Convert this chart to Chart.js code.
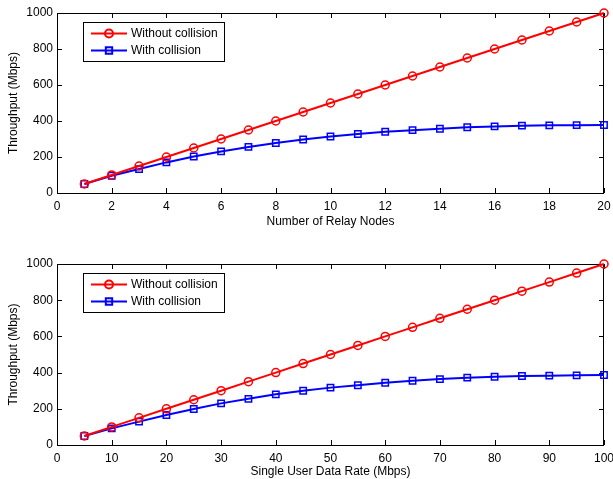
<!DOCTYPE html>
<html>
<head>
<meta charset="utf-8">
<script src="https://cdn.jsdelivr.net/npm/chart.js@4/dist/chart.umd.min.js"></script>
<style>
    html, body { margin: 0; padding: 0; background: #fff; }
    #wrap { position: relative; width: 613px; height: 479px; }
    .panel { position: absolute; left: 0; width: 613px; }
</style>
</head>
<body>
<div id="wrap">
    <div class="panel" style="top:0;height:240px"><canvas id="relayChart" width="613" height="240"></canvas></div>
    <div class="panel" style="top:240px;height:239px"><canvas id="rateChart" width="613" height="239"></canvas></div>
</div>
<script>
// top panel: throughput vs number of relay nodes
const relayNodes = [1, 2, 3, 4, 5, 6, 7, 8, 9, 10, 11, 12, 13, 14, 15, 16, 17, 18, 19, 20];
const relayWithout = [50, 100, 150, 200, 250, 300, 350, 400, 450, 500, 550, 600, 650, 700, 750, 800, 850, 900, 950, 1000];
const relayWith = [50, 96, 133, 170, 203, 231, 256, 278, 297, 314, 328, 340, 349, 357, 365, 370, 374, 376, 377, 378];
const relayTicks = [0, 2, 4, 6, 8, 10, 12, 14, 16, 18, 20];

// bottom panel: throughput vs single user data rate
const userRates = [5, 10, 15, 20, 25, 30, 35, 40, 45, 50, 55, 60, 65, 70, 75, 80, 85, 90, 95, 100];
const rateWithout = [50, 100, 150, 200, 250, 300, 350, 400, 450, 500, 550, 600, 650, 700, 750, 800, 850, 900, 950, 1000];
const rateWith = [50, 92, 129, 166, 199, 230, 255, 280, 300, 317, 330, 344, 355, 364, 372, 377, 381, 383, 385, 387];
const rateTicks = [0, 10, 20, 30, 40, 50, 60, 70, 80, 90, 100];

const throughputTicks = [0, 200, 400, 600, 800, 1000];
const seriesNames = ["Without collision", "With collision"];

Chart.defaults.font.family = "'Liberation Sans', Arial, Helvetica, sans-serif";
Chart.defaults.font.size = 12;
Chart.defaults.color = "#000";

// matlab style box with inward ticks on all four sides
const axesBox = {
    id: "axesBox",
    beforeDatasetsDraw(chart) {
        const { ctx, chartArea: a, scales } = chart;
        ctx.save();
        ctx.strokeStyle = "#000";
        ctx.lineWidth = 1;
        ctx.strokeRect(a.left + 0.5, a.top + 0.5, a.right - a.left - 1, a.bottom - a.top);
        ctx.beginPath();
        scales.x.ticks.forEach(t => {
            const px = Math.round(scales.x.getPixelForValue(t.value)) + 0.5;
            ctx.moveTo(px, a.bottom); ctx.lineTo(px, a.bottom - 5);
            ctx.moveTo(px, a.top); ctx.lineTo(px, a.top + 5);
        });
        scales.y.ticks.forEach(t => {
            const py = Math.round(scales.y.getPixelForValue(t.value)) + 0.5;
            ctx.moveTo(a.left, py); ctx.lineTo(a.left + 5, py);
            ctx.moveTo(a.right, py); ctx.lineTo(a.right - 5, py);
        });
        ctx.stroke();
        ctx.restore();
    }
};

// legend drawn inside the axes, top left
const insideLegend = {
    id: "insideLegend",
    afterDraw(chart) {
        const { ctx, chartArea: a } = chart;
        const x0 = a.left + 26, y0 = a.top + 9;
        ctx.save();
        ctx.fillStyle = "#fff";
        ctx.fillRect(x0, y0, 141, 39);
        ctx.strokeStyle = "#000";
        ctx.lineWidth = 1;
        ctx.strokeRect(x0 + 0.5, y0 + 0.5, 141, 39);
        chart.data.datasets.forEach((ds, i) => {
            const y = y0 + 11.5 + i * 17;
            ctx.strokeStyle = ds.borderColor;
            ctx.lineWidth = ds.borderWidth;
            ctx.beginPath();
            ctx.moveTo(x0 + 8, y);
            ctx.lineTo(x0 + 44, y);
            ctx.stroke();
            ctx.fillStyle = "rgba(0,0,0,0)";
            Chart.helpers.drawPoint(ctx, {
                pointStyle: ds.pointStyle,
                radius: ds.pointRadius,
                borderWidth: ds.pointBorderWidth,
                rotation: 0
            }, x0 + 26, y);
            ctx.fillStyle = "#000";
            ctx.font = "12px 'Liberation Sans', Arial, sans-serif";
            ctx.textBaseline = "middle";
            ctx.textAlign = "left";
            ctx.fillText(ds.label, x0 + 48, y);
        });
        ctx.restore();
    }
};

function makeDataset(label, xs, ys, color, style, radius) {
    return {
        label: label,
        data: xs.map((x, i) => ({ x: x, y: ys[i] })),
        borderColor: color,
        borderWidth: 2,
        pointStyle: style,
        pointRadius: radius,
        pointBorderWidth: 1.5,
        pointBorderColor: color,
        pointBackgroundColor: "rgba(0,0,0,0)",
        tension: 0,
        clip: false
    };
}

function makeChart(canvasId, xs, without, withC, xTicks, xMax, xTitle, opts) {
    return new Chart(document.getElementById(canvasId), {
        type: "line",
        data: {
            datasets: [
                makeDataset(seriesNames[0], xs, without, "#ff0000", "circle", 4),
                makeDataset(seriesNames[1], xs, withC, "#0000ff", "rect", 4.5)
            ]
        },
        options: {
            responsive: false,
            devicePixelRatio: 1,
            animation: false,
            events: [],
            layout: { padding: { top: opts.padTop, right: 9, left: 0, bottom: 0 } },
            plugins: { legend: { display: false }, tooltip: { enabled: false } },
            scales: {
                x: {
                    type: "linear",
                    min: 0,
                    max: xMax,
                    afterBuildTicks: s => { s.ticks = xTicks.map(v => ({ value: v })); },
                    afterFit: s => { s.height = opts.xHeight; s.paddingLeft = 0; s.paddingRight = 0; },
                    grid: { display: false, drawTicks: false },
                    border: { display: false },
                    ticks: { padding: 6, maxRotation: 0, autoSkip: false, callback: v => String(v) },
                    title: {
                        display: true,
                        text: xTitle,
                        font: { size: 12, lineHeight: 1.2 },
                        padding: { top: 0, bottom: opts.xTitlePad }
                    }
                },
                y: {
                    type: "linear",
                    min: 0,
                    max: 1000,
                    afterBuildTicks: s => { s.ticks = throughputTicks.map(v => ({ value: v })); },
                    afterFit: s => { s.width = 57; s.paddingTop = 0; s.paddingBottom = 0; },
                    grid: { display: false, drawTicks: false },
                    border: { display: false },
                    ticks: { padding: 4, autoSkip: false, callback: v => String(v) },
                    title: {
                        display: true,
                        text: "Throughput (Mbps)",
                        font: { size: 12, lineHeight: 1.2 },
                        padding: { top: 6, bottom: 0 }
                    }
                }
            }
        },
        plugins: [axesBox, insideLegend]
    });
}

makeChart("relayChart", relayNodes, relayWithout, relayWith, relayTicks, 20,
    "Number of Relay Nodes", { padTop: 13, xHeight: 47, xTitlePad: 10.8 });
makeChart("rateChart", userRates, rateWithout, rateWith, rateTicks, 100,
    "Single User Data Rate (Mbps)", { padTop: 24, xHeight: 34, xTitlePad: 0 });
</script>
</body>
</html>
